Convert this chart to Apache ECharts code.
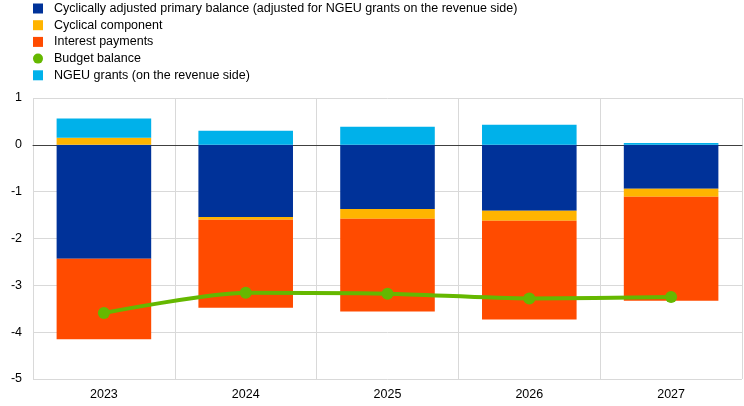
<!DOCTYPE html>
<html><head><meta charset="utf-8">
<script src="https://cdn.jsdelivr.net/npm/echarts@6/dist/echarts.min.js"></script>
<style>html,body{margin:0;padding:0;background:#fff}#c{width:744px;height:406px}</style>
</head><body><div id="c"></div>
<script>
const categories = ['2023','2024','2025','2026','2027'];
const capb = [-2.43, -1.54, -1.37, -1.41, -0.94];
const cyclical = [0.15, -0.06, -0.21, -0.21, -0.17];
const interest = [-1.72, -1.88, -1.98, -2.11, -2.22];
const budget = [-3.59, -3.16, -3.18, -3.28, -3.25];
const ngeu = [0.41, 0.30, 0.385, 0.43, 0.04];
const yTicks = [-5, -4, -3, -2, -1, 0, 1];

const font = 'Liberation Sans, Arial, sans-serif';
const chart = echarts.init(document.getElementById('c'));
const barBase = { type: 'bar', stack: 'total', barCategoryGap: '33.3%', emphasis: { disabled: true } };
chart.setOption({
  animation: false,
  textStyle: { fontFamily: font },
  legend: {
    orient: 'vertical', left: 28, top: -3, itemWidth: 10, itemHeight: 10, itemGap: 3.7,
    textStyle: { fontSize: 12.5, color: '#000', fontFamily: font, lineHeight: 12, padding: [0, 0, 0, 6] },
    data: [
      { name: 'Cyclically adjusted primary balance (adjusted for NGEU grants on the revenue side)', icon: 'rect' },
      { name: 'Cyclical component', icon: 'rect' },
      { name: 'Interest payments', icon: 'rect' },
      { name: 'Budget balance', icon: 'circle' },
      { name: 'NGEU grants (on the revenue side)', icon: 'rect' }
    ]
  },
  grid: { left: 33, right: 2, top: 98, bottom: 27, containLabel: false },
  xAxis: {
    type: 'category', data: categories, boundaryGap: true,
    axisLine: { onZero: true, lineStyle: { color: '#404040', width: 1 } },
    axisTick: { show: false },
    axisLabel: { color: '#000', fontSize: 12.5, margin: 9, fontFamily: font },
    splitLine: { show: true, lineStyle: { color: '#d9d9d9', width: 1 } }
  },
  yAxis: {
    type: 'value', min: yTicks[0], max: yTicks[yTicks.length - 1], interval: 1,
    axisLine: { show: false }, axisTick: { show: false },
    axisLabel: { color: '#000', fontSize: 12.5, margin: 11, fontFamily: font },
    splitLine: { show: true, lineStyle: { color: '#d9d9d9', width: 1 } }
  },
  series: [
    Object.assign({}, barBase, { name: 'Cyclically adjusted primary balance (adjusted for NGEU grants on the revenue side)', data: capb, itemStyle: { color: '#003299' } }),
    Object.assign({}, barBase, { name: 'Cyclical component', data: cyclical, itemStyle: { color: '#ffb400' } }),
    Object.assign({}, barBase, { name: 'Interest payments', data: interest, itemStyle: { color: '#ff4b00' } }),
    { name: 'Budget balance', type: 'line', data: budget, smooth: 0.25, symbol: 'circle', symbolSize: 12,
      lineStyle: { color: '#65b800', width: 4 }, itemStyle: { color: '#65b800' }, z: 5, emphasis: { disabled: true } },
    Object.assign({}, barBase, { name: 'NGEU grants (on the revenue side)', data: ngeu, itemStyle: { color: '#00b1ea' } })
  ]
});
</script>
</body></html>
